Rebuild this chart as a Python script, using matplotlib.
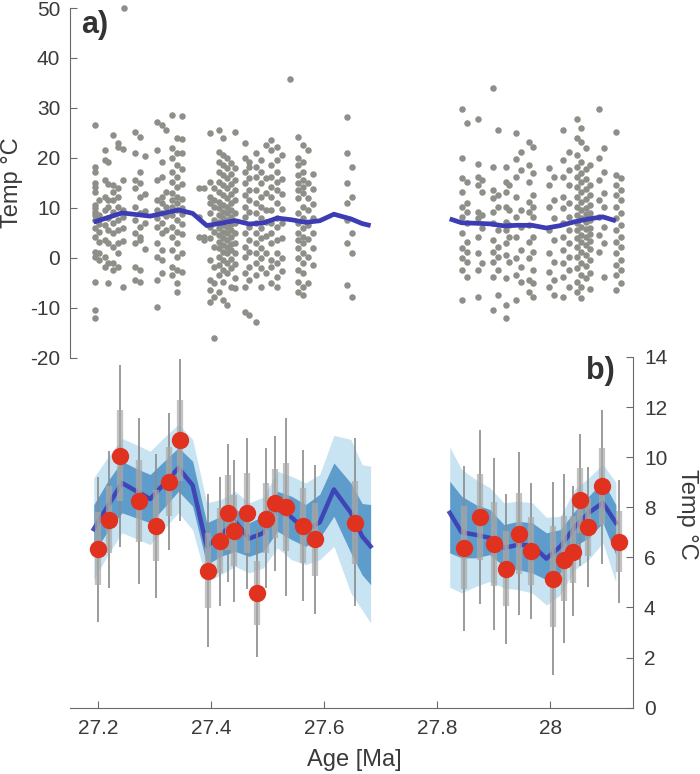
import matplotlib
matplotlib.use("Agg")
import matplotlib.pyplot as plt
import numpy as np

plt.rcParams['font.family'] = ['Liberation Sans', 'DejaVu Sans']
plt.rcParams['axes.unicode_minus'] = False

# ---- panel a: individual temperature estimates, grouped by sample column ----
col_ages = [27.1935, 27.2005, 27.2111, 27.2166, 27.2253, 27.2342, 27.2430, 27.2448,
            27.2643, 27.2731, 27.2820, 27.3032, 27.3120, 27.3191, 27.3297, 27.3386,
            27.3474, 27.3775, 27.3864, 27.3970, 27.4041, 27.4129, 27.4200, 27.4271,
            27.4342, 27.4412, 27.4589, 27.4660, 27.4784, 27.4873, 27.4961, 27.5050,
            27.5156, 27.5244, 27.5386, 27.5527, 27.5616, 27.5705, 27.5793, 27.6395,
            27.6483,
            27.8430, 27.8520, 27.8714, 27.8785, 27.8980, 27.9069, 27.9210, 27.9263,
            27.9387, 27.9476, 27.9618, 27.9688, 27.9972, 28.0061, 28.0220, 28.0326,
            28.0468, 28.0539, 28.0627, 28.0698, 28.0857, 28.0946, 28.1158, 28.1247]
col_temps = [
    [26.5, 18.2, 17.2, 14.9, 14.1, 13.2, 10.5, 9.9, 9.2, 8.5, 7.5, 5.9, 4.2, 1.2, 0.2, -4.8, -10.5, -12.1],
    [8.5, 7.9, 5.2, 3.2, -0.5, 11.5, 6.8, 1.0],
    [21.5, 19.5, 15.5, 12.2, 9.5, 6.5, 3.5, 0.2, -1.8],
    [19.2, 14.8, 11.5, 10.2, 7.9, 5.5, 2.9, -1.1, -5.1],
    [24.5, 14.5, 13.2, 11.5, 9.2, 6.9, 4.9, 2.2, -1.1, -2.5],
    [22.9, 22.2, 13.9, 12.2, 10.2, 7.5, 5.5, 2.9, 0.9, -1.8],
    [21.8, 15.5, 9.6, 8.2, 6.0, 3.4, -5.8],
    [50.0],
    [25.2, 20.9, 15.5, 13.9, 10.2, 7.5, 4.9, 2.9, -1.8, -4.5],
    [24.2, 17.2, 14.9, 12.2, 8.9, 6.2, 4.2, 3.5, -2.5, -4.8],
    [20.4, 12.8, 9.4, 7.0, 1.8],
    [27.2, 21.5, 15.5, 11.5, 9.5, 7.9, 6.2, 2.9, 0.2, -4.5, -9.8],
    [26.5, 19.2, 16.2, 12.2, 10.9, 8.9, 6.9, 4.9, 1.5, -0.5, -3.1],
    [25.5, 13.2, 10.2, 8.4, 5.5],
    [28.5, 21.9, 19.9, 17.2, 15.2, 12.9, 11.5, 10.2, 8.5, 6.2, 4.2, 1.5, -1.8, -3.5],
    [23.9, 20.9, 18.5, 16.2, 14.2, 12.2, 10.9, 9.5, 7.5, 5.2, 2.9, 0.2, -2.5, -5.1, -6.8],
    [28.4, 23.8, 21.0, 17.8, 14.8, 11.8, 9.9, 8.8, 6.8, 4.7, 1.0, -2.8],
    [13.9, 8.2, 4.2],
    [13.9, 4.2, 3.5],
    [24.9, 15.2, 12.2, 10.9, 8.9, 6.2, 3.9, -0.5, -4.5, -6.5, -8.8],
    [13.9, 11.5, 10.2, 7.5, 5.2, 2.2, -1.8, -5.1, -7.8, -16.1],
    [25.5, 21.2, 19.2, 17.2, 15.2, 13.2, 11.2, 9.9, 8.5, 7.2, 5.9, 4.5, 3.2, 1.9, 0.2, -1.5, -3.5, -6.8],
    [23.9, 20.5, 18.5, 16.5, 14.5, 12.5, 10.5, 9.2, 7.9, 6.5, 5.2, 3.9, 2.5, 1.2, -0.5, -2.5, -4.8, -8.5],
    [19.9, 17.9, 15.9, 13.9, 11.9, 10.2, 8.9, 7.5, 6.2, 4.9, 3.5, 2.2, 0.9, -1.0, -3.0, -9.5],
    [19.0, 16.8, 14.8, 12.8, 11.0, 9.6, 8.2, 6.8, 5.5, 4.2, 2.8, 1.5, -0.2, -2.0, -5.8],
    [25.2, 18.0, 15.5, 13.5, 11.5, 9.0, 7.0, 5.0, 3.0, 1.0, -1.2, -4.0, -6.0],
    [22.9, 19.9, 17.2, 14.9, 12.5, 10.2, 8.2, 4.9, 2.2, 0.2, -3.1, -5.8, -10.8],
    [19.2, 18.2, 15.9, 13.5, 11.5, 9.2, 6.2, 3.5, 1.2, -1.8, -4.5, -11.5],
    [20.9, 18.2, 16.2, 13.5, 10.9, 8.9, 6.9, 4.9, 2.9, 0.9, -1.1, -3.5, -12.8],
    [19.5, 17.2, 14.9, 12.2, 10.2, 7.9, 5.9, 3.9, 1.9, -0.1, -2.1, -5.8],
    [22.5, 16.0, 13.0, 9.5, 7.2, 4.4, 1.0, -3.0],
    [23.5, 21.5, 18.5, 16.2, 14.2, 12.2, 9.5, 6.9, 4.9, 2.9, -0.5, -1.8, -5.1],
    [22.2, 19.5, 17.2, 15.2, 13.5, 10.9, 7.9, 6.2, 3.5, 0.9, -1.1, -3.8, -5.8],
    [20.6, 15.8, 12.8, 9.8, 7.0, 4.0, 0.0, -2.6],
    [35.8],
    [24.2, 19.9, 18.5, 16.5, 14.9, 13.5, 11.9, 8.9, 6.9, 4.9, 3.5, 1.9, -0.1, -2.5, -4.8, -6.8],
    [22.5, 19.2, 17.2, 15.5, 14.2, 12.9, 10.2, 7.9, 5.9, 4.2, 2.9, 0.9, -1.1, -3.1, -5.8, -7.5],
    [21.5, 15.0, 12.0, 9.5, 6.5, 3.8, 0.2, -5.0],
    [16.8, 13.8, 10.8, 8.0, 5.0, 2.0, -1.5],
    [28.2, 20.9, 14.9, 10.9, 7.5, 2.9, -5.5],
    [18.2, 12.2, 4.9, 0.9, -7.8],
    [29.7, 19.9, 15.9, 13.2, 10.2, 8.2, 4.9, 1.9, -0.1, -2.5, -8.5],
    [26.9, 15.2, 10.9, 9.2, 6.9, 3.2, 1.2, -0.8, -3.8],
    [27.7, 18.7, 16.2, 14.5, 9.2, 7.9, 4.2, 0.9, -2.5, -7.8],
    [15.5, 13.2, 8.5, 5.9, -1.1],
    [33.9, 18.1, 13.5, 11.9, 9.2, 6.9, 3.5, 1.2, -0.8, -3.8, -10.5],
    [25.5, 12.5, 10.2, 5.5, 2.2, 0.2, -2.5, -7.5],
    [18.1, 15.2, 13.2, 10.2, 7.2, 5.5, 2.9, 0.5, -4.1, -9.5, -12.1],
    [14.5, 9.5, 6.5, 4.2, -0.8],
    [24.9, 19.7, 16.2, 12.2, 8.2, 4.2, -0.1, -3.5, -8.5],
    [21.2, 17.5, 9.5, 6.2, 1.5, -1.8, -4.8],
    [23.2, 18.5, 15.2, 11.2, 9.2, 6.5, 3.2, -0.1, -4.5, -6.8],
    [22.2, 16.9, 12.5, 10.2, 8.2, 4.2, 1.2, -2.5, -5.1, -7.8],
    [17.9, 14.5, 10.2, 5.5, 0.9, -2.8, -5.8],
    [16.2, 11.5, 7.9, 3.5, -0.8, -4.5, -7.5],
    [25.5, 19.5, 16.2, 12.2, 9.9, 6.9, 4.2, 1.5, -1.1, -3.8, -7.8],
    [21.2, 17.5, 14.5, 10.9, 8.2, 5.5, 2.9, 0.2, -2.5, -5.8],
    [27.7, 23.9, 20.5, 18.2, 16.2, 14.2, 12.2, 10.2, 8.5, 6.9, 5.5, 3.9, 2.2, 0.2, -2.1, -4.8, -6.8],
    [25.9, 23.2, 19.2, 16.9, 15.2, 13.2, 11.2, 9.5, 7.9, 6.2, 4.5, 3.2, 1.2, -1.1, -3.5, -5.8, -8.1],
    [22.0, 17.8, 15.8, 13.8, 11.8, 10.0, 8.8, 7.2, 5.8, 4.2, 2.6, 0.6, -1.6, -4.0],
    [18.6, 14.6, 12.6, 10.6, 9.0, 7.5, 6.0, 4.8, 3.4, 1.8, -0.5, -3.0, -6.2],
    [29.7, 19.9, 15.5, 11.5, 8.2, 4.5, 1.2],
    [21.9, 17.2, 12.9, 10.2, 6.2, 2.9, -3.8],
    [25.2, 16.5, 14.5, 12.5, 10.2, 7.9, 5.5, 3.2, 0.9, -1.5, -3.5, -6.5],
    [15.9, 13.5, 11.5, 8.9, 6.5, 4.2, 2.2, -0.5, -2.5, -5.1],
]

# ---- panel b: sample means with uncertainty ----
b_age = [27.200, 27.219, 27.238, 27.272, 27.303, 27.326, 27.345, 27.394, 27.415, 27.430,
         27.440, 27.463, 27.481, 27.496, 27.512, 27.533, 27.563, 27.583, 27.654,
         27.848, 27.875, 27.900, 27.921, 27.944, 27.966, 28.004, 28.025, 28.041, 28.053,
         28.067, 28.091, 28.122]
b_temp = [6.34, 7.51, 10.06, 8.24, 7.27, 9.02, 10.67, 5.47, 6.66, 7.79,
          7.07, 7.76, 4.57, 7.55, 8.16, 8.02, 7.27, 6.73, 7.37,
          6.36, 7.60, 6.52, 5.53, 6.95, 6.24, 5.13, 5.91, 6.23, 8.28,
          7.21, 8.83, 6.61]
thin_lo = [3.42, 4.76, 6.42, 4.94, 4.38, 6.31, 7.44, 2.42, 4.07, 5.02,
           4.22, 4.74, 2.02, 4.76, 5.44, 4.44, 4.27, 3.75, 4.04,
           3.08, 4.14, 3.11, 2.55, 3.68, 3.53, 1.31, 2.58, 3.64, 5.67,
           4.80, 5.75, 4.17]
thin_hi = [9.22, 10.26, 13.67, 11.55, 10.13, 11.75, 13.91, 8.51, 9.22, 10.53,
           9.88, 10.76, 7.14, 10.35, 10.84, 11.56, 10.27, 9.67, 10.75,
           9.63, 11.08, 9.95, 8.51, 10.20, 8.97, 9.00, 9.34, 8.84, 10.92,
           9.60, 11.88, 9.07]
thick_lo = [4.88, 6.18, 8.25, 6.60, 5.84, 7.67, 9.06, 3.96, 5.38, 6.29,
            5.64, 6.16, 3.31, 6.18, 6.79, 6.24, 5.78, 5.27, 5.75,
            4.74, 5.88, 4.84, 4.04, 5.34, 4.88, 3.24, 4.27, 4.98, 6.98,
            6.04, 7.30, 5.41]
thick_hi = [7.80, 8.84, 11.87, 9.88, 8.70, 10.41, 12.28, 6.98, 7.98, 9.29,
            8.50, 9.36, 5.87, 8.95, 9.51, 9.77, 8.75, 8.17, 9.05,
            8.04, 9.34, 8.22, 7.04, 8.58, 7.61, 7.24, 7.64, 7.64, 9.58,
            8.38, 10.36, 7.84]

# running mean and bands, two separate segments
seg_age = [
    [27.192, 27.217, 27.242, 27.267, 27.292, 27.317, 27.342, 27.367, 27.392, 27.417, 27.442,
     27.467, 27.492, 27.517, 27.542, 27.567, 27.592, 27.617, 27.647, 27.667, 27.682],
    [27.822, 27.843, 27.868, 27.893, 27.918, 27.943, 27.968, 27.993, 28.018, 28.043, 28.068,
     28.093, 28.116],
]
seg_mean = [
    [7.13, 8.05, 8.97, 8.65, 8.33, 8.95, 9.57, 8.88, 6.44, 6.90, 7.44,
     6.75, 6.97, 7.94, 7.60, 7.08, 7.40, 8.71, 7.78, 6.84, 6.44],
    [7.78, 7.00, 6.90, 6.78, 6.38, 6.50, 6.48, 5.95, 6.44, 7.20, 7.78, 8.18, 7.38],
]
seg_light_hi = [
    [9.18, 10.00, 10.75, 10.50, 10.24, 10.80, 11.31, 10.71, 8.18, 8.31, 8.64,
     8.18, 8.40, 9.44, 9.24, 8.97, 9.31, 10.87, 10.71, 9.70, 9.64],
    [10.41, 9.51, 9.11, 8.78, 8.18, 8.24, 8.18, 7.60, 7.64, 8.71, 9.18, 9.71, 9.00],
]
seg_dark_hi = [
    [8.10, 9.05, 9.84, 9.55, 9.31, 9.85, 10.38, 9.84, 7.38, 7.64, 7.98,
     7.38, 7.65, 8.64, 8.44, 8.11, 8.52, 9.77, 8.97, 8.15, 8.11],
    [9.04, 8.44, 8.11, 7.91, 7.31, 7.44, 7.38, 6.98, 7.11, 7.84, 8.44, 9.04, 8.10],
]
seg_dark_lo = [
    [6.18, 7.05, 7.78, 7.58, 7.38, 8.00, 8.64, 8.04, 5.71, 6.04, 6.24,
     6.04, 6.24, 7.04, 6.71, 6.44, 6.78, 7.64, 6.18, 5.30, 4.91],
    [6.18, 5.98, 5.98, 6.11, 5.64, 5.51, 5.38, 5.11, 5.38, 6.44, 6.78, 7.38, 6.10],
]
seg_light_lo = [
    [5.10, 6.10, 6.98, 6.75, 6.51, 7.15, 7.78, 7.10, 5.04, 5.31, 5.64,
     5.38, 5.58, 6.38, 5.91, 5.71, 5.91, 6.44, 4.58, 3.90, 3.38],
    [4.81, 4.58, 4.84, 5.04, 4.78, 4.71, 4.58, 4.10, 4.51, 5.51, 5.91, 6.58, 5.00],
]

x_ticks = [27.2, 27.4, 27.6, 27.8, 28.0]
x_labels = ['27.2', '27.4', '27.6', '27.8', '28']

grey_pts = '#8f8f89'
line_blue = '#3c3cb4'
dark_band = '#5e9ccb'
light_band = '#c8e4f2'
red = '#e0321f'
txt = '#3a3a3a'
spine_c = '#6a6a6a'

fig = plt.figure(figsize=(7.0, 7.74), dpi=100)
ax_b = fig.add_axes([0.1, 0.0857, 0.804, 0.4531])
ax_a = fig.add_axes([0.1, 0.538, 0.804, 0.4516])
ax_a.patch.set_alpha(0)

# panel a
xs, ys = [], []
for a, tt in zip(col_ages, col_temps):
    xs += [a] * len(tt)
    ys += tt
ax_a.scatter(xs, ys, s=22, color=grey_pts, linewidths=0, zorder=2, clip_on=False)
for ag, mn in zip(seg_age, seg_mean):
    ax_a.plot(ag, mn, color=line_blue, lw=3.4, solid_capstyle='butt', zorder=3)

ax_a.set_xlim(27.15, 28.146)
ax_a.set_ylim(-20, 50)
ax_a.set_yticks(range(-20, 51, 10))
ax_a.set_xticks([])
for s in ['top', 'right', 'bottom']:
    ax_a.spines[s].set_visible(False)
ax_a.spines['left'].set_color(spine_c)
ax_a.tick_params(axis='y', direction='in', length=5, color=spine_c, labelsize=15,
                 labelcolor=txt, pad=7)

# panel b
for i in range(2):
    ax_b.fill_between(seg_age[i], seg_light_lo[i], seg_light_hi[i], color=light_band,
                      lw=0, zorder=1)
    ax_b.fill_between(seg_age[i], seg_dark_lo[i], seg_dark_hi[i], color=dark_band,
                      lw=0, zorder=2)
    ax_b.plot(seg_age[i], seg_mean[i], color=line_blue, lw=3.2, alpha=0.9, zorder=3)

ax_b.vlines(b_age, thin_lo, thin_hi, color='#8a8a8a', lw=1.2, zorder=4)
ax_b.vlines(b_age, thick_lo, thick_hi, color='#a9a9a9', lw=4.5, alpha=0.7, zorder=4)
ax_b.plot(b_age, b_temp, 'o', ms=12.5, color=red, mec='none', zorder=5)

ax_b.set_xlim(27.15, 28.146)
ax_b.set_ylim(0, 14)
ax_b.set_yticks(range(0, 15, 2))
ax_b.set_xticks(x_ticks)
ax_b.set_xticklabels(x_labels)
ax_b.yaxis.tick_right()
for s in ['top', 'left']:
    ax_b.spines[s].set_visible(False)
for s in ['bottom', 'right']:
    ax_b.spines[s].set_color(spine_c)
ax_b.tick_params(axis='both', direction='in', length=5, color=spine_c, labelsize=15,
                 labelcolor=txt, pad=8)

fig.text(12 / 700, 1 - 183 / 774, 'Temp °C', rotation=90, ha='center', va='center',
         fontsize=17, color=txt)
fig.text(687 / 700, 1 - 514 / 774, 'Temp °C', rotation=270, ha='center', va='center',
         fontsize=17, color=txt)
fig.text(354 / 700, 1 - 760 / 774, 'Age [Ma]', ha='center', va='center', fontsize=17,
         color=txt)
fig.text(81 / 700, 1 - 10 / 774, 'a)', ha='left', va='top', fontsize=22,
         fontweight='bold', color='#333333')
fig.text(586 / 700, 1 - 356 / 774, 'b)', ha='left', va='top', fontsize=22,
         fontweight='bold', color='#333333')

fig.savefig('out.png', dpi=100)
